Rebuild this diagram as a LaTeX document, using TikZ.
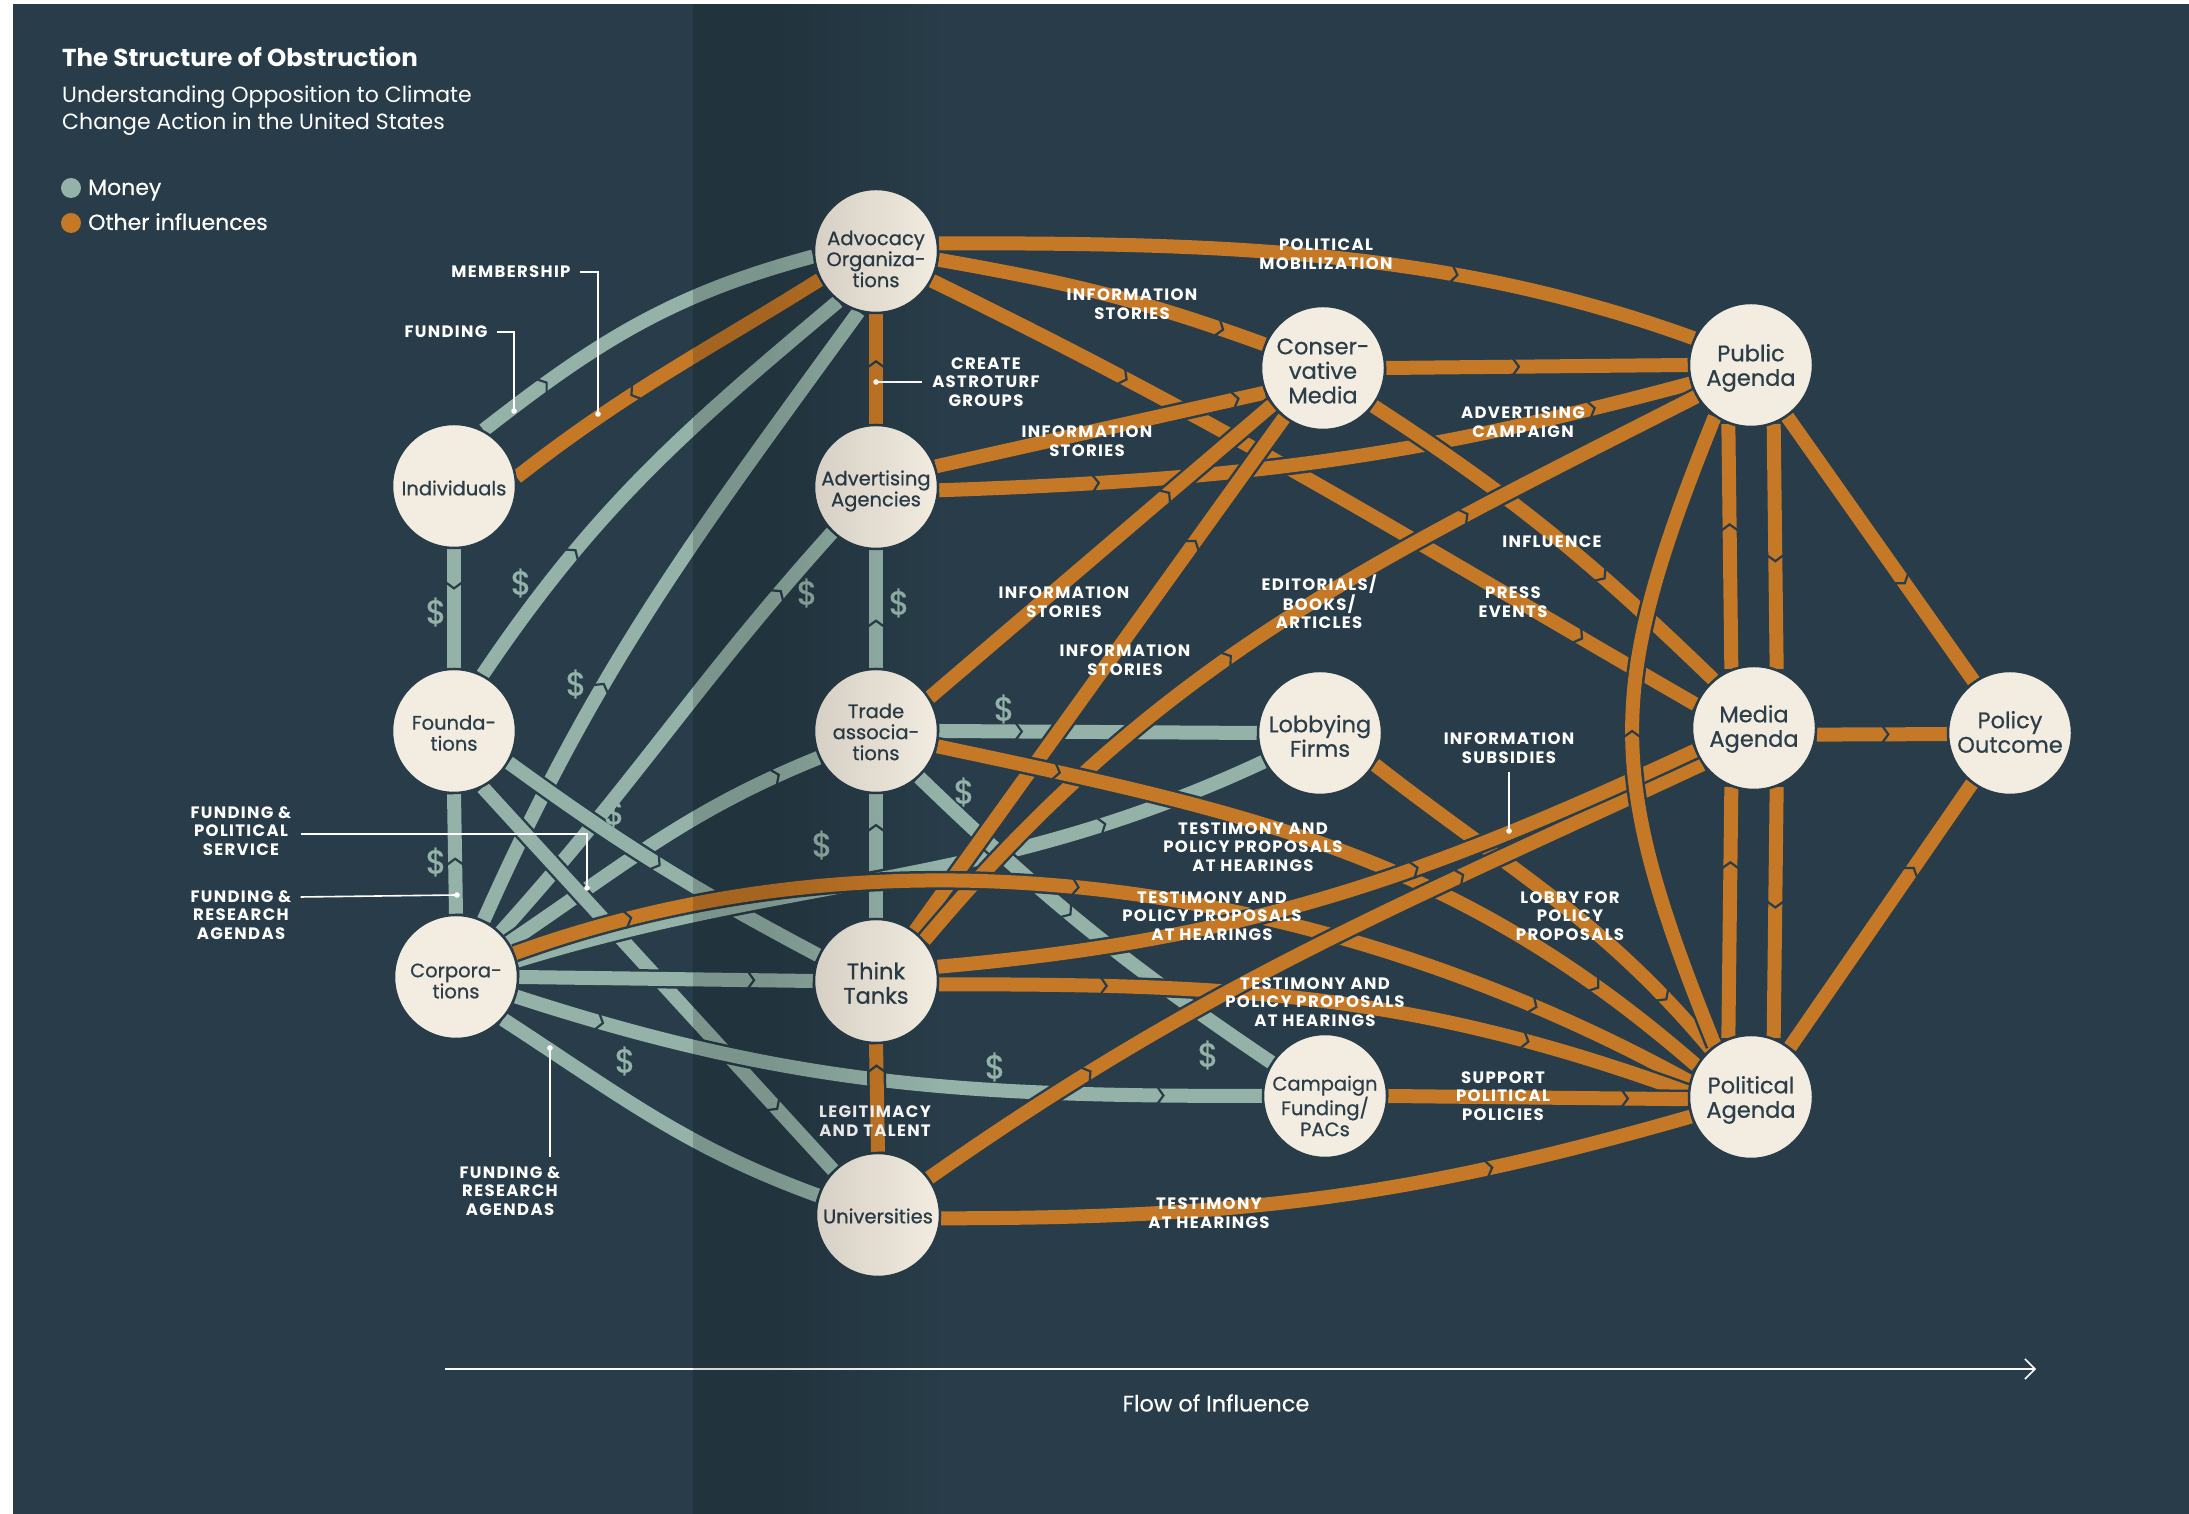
\documentclass[tikz,border=0pt]{standalone}
\usepackage{fontspec}
\setmainfont{Poppins}
\newfontfamily\lblfont[LetterSpace=8]{Poppins}
\newfontfamily\ndfont[FakeBold=0.6]{Poppins}
\newfontfamily\medfont[FakeBold=0.45]{Poppins}
\newfontfamily\dolfont[FakeBold=0.9]{Poppins}
\usetikzlibrary{decorations.markings,arrows.meta,fadings}
\definecolor{bgc}{HTML}{283D49}
\definecolor{sage}{HTML}{94B2A8}
\definecolor{orng}{HTML}{C57826}
\definecolor{ndfill}{HTML}{F3ECE0}
\definecolor{ndtext}{HTML}{2B3E4A}
\pgfdeclarelayer{bgl}\pgfdeclarelayer{edges}\pgfdeclarelayer{top}
\pgfsetlayers{bgl,edges,main,top}
\tikzset{
  band/.style={line width=14pt, preaction={draw=bgc, line width=19pt}},
  money/.style={band, draw=sage},
  infl/.style={band, draw=orng},
  chev/.style={postaction={decorate, decoration={markings, mark=at position #1 with {\draw[bgc, line width=2.2pt, line join=miter] (-6.5pt,9pt) -- (0pt,0pt) -- (-6.5pt,-9pt);}}}},
  nd/.style={circle, fill=ndfill, draw=bgc, line width=2.5pt, minimum size=124pt, inner sep=0pt},
  ndt/.style={align=center, text=ndtext, inner sep=0pt, font=\ndfont\fontsize{19.5}{21}\selectfont},
  ndtb/.style={ndt, font=\ndfont\fontsize{22.5}{24.5}\selectfont},
  lbl/.style={text=white, align=center, inner sep=1pt, font=\lblfont\bfseries\fontsize{16.5}{18.5}\selectfont},
  dol/.style={text=sage, inner sep=0pt, font=\dolfont\fontsize{33}{33}\selectfont},
  leader/.style={draw=white, line width=1.6pt},
  dotw/.style={fill=white},
}
\begin{document}
\begin{tikzpicture}[x=1pt,y=1pt]
\begin{pgfonlayer}{bgl}
\fill[white] (0,0) rectangle (2189,1514);
\fill[bgc] (13,0) rectangle (2189,1510);
\end{pgfonlayer}
\useasboundingbox (0,0) rectangle (2189,1514);

% ---------- nodes (circles)
\node[nd] (adv)   at (876,1263) {};
\node[nd] (ind)   at (454,1028) {};
\node[nd] (advt)  at (876,1027) {};
\node[nd] (fnd)   at (454,783)  {};
\node[nd] (trd)   at (876,783)  {};
\node[nd] (cmed)  at (1323,1146) {};
\node[nd] (pub)   at (1751,1149) {};
\node[nd] (lob)   at (1320,781) {};
\node[nd] (med)   at (1754,786) {};
\node[nd] (pout)  at (2010,781) {};
\node[nd] (corp)  at (456,537)  {};
\node[nd] (tt)    at (876,533)  {};
\node[nd] (camp)  at (1325,418) {};
\node[nd] (polag) at (1751,417) {};
\node[nd] (uni)   at (878,299)  {};
% ---------- node texts
\node[ndt]  (advT)   at ([yshift=-8pt]adv)   {Advocacy\\Organiza-\\tions};
\node[ndt]  (indT)   at ([yshift=-2pt]ind)   {Individuals};
\node[ndt]  (advtT)  at ([yshift=-4pt]advt)  {Advertising\\Agencies};
\node[ndt]  (fndT)   at ([yshift=-2pt]fnd)   {Founda-\\tions};
\node[ndt]  (trdT)   at ([yshift=-1pt]trd)   {Trade\\associa-\\tions};
\node[ndtb] (cmedT)  at ([yshift=-3pt]cmed)  {Conser-\\vative\\Media};
\node[ndtb] (pubT)   at ([yshift=-3pt]pub)   {Public\\Agenda};
\node[ndtb] (lobT)   at ([yshift=-3pt]lob)   {Lobbying\\Firms};
\node[ndtb] (medT)   at ([yshift=-1pt]med)   {Media\\Agenda};
\node[ndtb] (poutT)  at ([yshift=1pt]pout)   {Policy\\Outcome};
\node[ndt]  (corpT)  at ([yshift=-4pt]corp)  {Corpora-\\tions};
\node[ndtb] (ttT)    at ([yshift=-2pt]tt)    {Think\\Tanks};
\node[ndt]  (campT)  at ([yshift=-10pt]camp) {Campaign\\Funding/\\PACs};
\node[ndtb] (polagT) at ([yshift=-3pt]polag) {Political\\Agenda};
\node[ndt]  (uniT)   at ([yshift=-1pt]uni)   {Universities};

% ---------- edges
\begin{pgfonlayer}{edges}
% money
\draw[money, chev=0.21] (ind.62) to[out=38,in=195] (adv.185);
\draw[money, chev=0.33] (ind.-90) -- (fnd.90);
\draw[money, chev=0.3] (fnd.63) to[out=56,in=220] (adv.233);
\draw[money, chev=0.37] (corp.64) to[out=66,in=234] (adv.254);
\draw[money, chev=0.85] (corp.45) to[out=48,in=228] (advt.226);
\draw[money, chev=0.4] (trd.90) -- (advt.-90);
\draw[money, chev=0.46] (corp.90) -- (fnd.-90);
\draw[money, chev=0.75] (tt.90) -- (trd.-90);
\draw[money, chev=0.88] (corp.33) to[out=34,in=202] (trd.205);
\draw[money, chev=0.5] (fnd.-30) to[out=-36,in=152] (tt.156);
\draw[money, chev=0.84] (fnd.-63) -- (uni.135);
\draw[money, chev=0.8] (corp.0) -- (tt.180);
\draw[money, chev=0.78] (corp.15) to[out=17,in=205] (lob.207);
\draw[money, chev=0.12, chev=0.87] (corp.-18) to[out=-18,in=180] (camp.180);
\draw[money] (corp.-42) to[out=-33,in=160] (uni.162);
\draw[money, chev=0.26] (trd.0) -- (lob.180);
\draw[money, chev=0.45] (trd.-47) to[out=-44,in=146] (camp.148);
% other influences
\draw[infl, chev=0.61] (adv.207) to[out=212,in=38] (ind.8);
\draw[infl, chev=0.57] (advt.90) -- (adv.-90);
\draw[infl, chev=0.68] (adv.7) to[out=0,in=160,looseness=0.9] (pub.155);
\draw[infl, chev=0.87] (adv.-8) to[out=-10,in=160] (cmed.158);
\draw[infl, chev=0.25, chev=0.85] (adv.-28) to[out=-26,in=150] (med.158);
\draw[infl, chev=0.92] (advt.19) -- (cmed.203);
\draw[infl, chev=0.21, chev=0.87] (advt.-3) to[out=2,in=195] (pub.197);
\draw[infl, chev=0.44] (cmed.0) -- (pub.180);
\draw[infl, chev=0.66] (cmed.-37) to[out=-33,in=136] (med.130);
\draw[infl, chev=0.7] (trd.32) -- (cmed.216);
\draw[infl, chev=0.76] (tt.52) -- (cmed.232);
\draw[infl, chev=0.44, chev=0.73] (tt.40) to[out=50,in=207] (pub.210);
\draw[infl, chev=0.15, chev=0.85] (trd.-14) to[out=-12,in=139] (polag.150);
\draw[infl, chev=0.1, chev=0.47, chev=0.86] (corp.22) .. controls (900,700) and (1330,630) .. (polag.166);
\draw[infl, chev=0.22, chev=0.78] (tt.-3) to[out=0,in=160] (polag.176);
\draw[infl, chev=0.85] (lob.-30) to[out=-38,in=130] (polag.130);
\draw[infl, chev=0.8] (camp.0) -- (polag.182);
\draw[infl, chev=0.73] (uni.-3) to[out=0,in=196] (polag.198);
\draw[infl, chev=0.8] (uni.90) -- (tt.-90);
\draw[infl, chev=0.22, chev=0.7] (uni.36) to[out=35,in=205] (med.215);
\draw[infl, chev=0.62] (tt.13) to[out=5,in=205] (med.201);
\draw[infl, chev=0.5] (polag.125) to[out=112,in=248,looseness=1.2] (pub.235);
\draw[infl, chev=0.59] (med.111) -- (pub.249);
\draw[infl, chev=0.56] (pub.291) -- (med.69);
\draw[infl, chev=0.7] (polag.111) -- (med.249);
\draw[infl, chev=0.48] (med.291) -- (polag.69);
\draw[infl, chev=0.63] (pub.-55) -- (pout.125);
\draw[infl, chev=0.55] (med.-6) -- (pout.181);
\draw[infl, chev=0.68] (polag.52) -- (pout.233);
\end{pgfonlayer}

% ---------- title and legend
\node[anchor=base west, text=white, inner sep=0pt, font=\bfseries\fontsize{24.5}{28}\selectfont] (title) at (62,1447) {The Structure of Obstruction};
\node[anchor=base west, text=white, inner sep=0pt, font=\fontsize{22}{28}\selectfont] (sub1) at (62,1411) {Understanding Opposition to Climate};
\node[anchor=base west, text=white, inner sep=0pt, font=\fontsize{22}{28}\selectfont] (sub2) at (62,1384) {Change Action in the United States};
\fill[sage] (71,1326) circle (10);
\node[anchor=base west, text=white, inner sep=0pt, font=\medfont\fontsize{22}{26}\selectfont] (lgm) at (88,1319) {Money};
\fill[orng] (71,1291) circle (10);
\node[anchor=base west, text=white, inner sep=0pt, font=\medfont\fontsize{22}{26}\selectfont] (lgo) at (88,1284) {Other influences};

% ---------- labels
\node[lbl] (lMem) at (511,1242) {MEMBERSHIP};
\node[lbl] (lFund) at (446,1182) {FUNDING};
\node[lbl] (lAstro) at (986,1132) {CREATE\\ASTROTURF\\GROUPS};
\node[lbl] (lPolMob) at (1326,1260) {POLITICAL\\MOBILIZATION};
\node[lbl] (lInf1) at (1132,1210) {INFORMATION\\STORIES};
\node[lbl] (lInf2) at (1087,1073) {INFORMATION\\STORIES};
\node[lbl] (lAdv) at (1523,1092) {ADVERTISING\\CAMPAIGN};
\node[lbl] (lInfl) at (1552,972) {INFLUENCE};
\node[lbl] (lPress) at (1513,912) {PRESS\\EVENTS};
\node[lbl] (lInf3) at (1064,912) {INFORMATION\\STORIES};
\node[lbl] (lEdit) at (1319,912) {EDITORIALS/\\BOOKS/\\ARTICLES};
\node[lbl] (lInf4) at (1125,854) {INFORMATION\\STORIES};
\node[lbl] (lSubs) at (1509,766) {INFORMATION\\SUBSIDIES};
\node[lbl] (lTes1) at (1253,667) {TESTIMONY AND\\POLICY PROPOSALS\\AT HEARINGS};
\node[lbl] (lTes2) at (1212,598) {TESTIMONY AND\\POLICY PROPOSALS\\AT HEARINGS};
\node[lbl] (lLobby) at (1570,598) {LOBBY FOR\\POLICY\\PROPOSALS};
\node[lbl] (lTes3) at (1315,512) {TESTIMONY AND\\POLICY PROPOSALS\\AT HEARINGS};
\node[lbl] (lSupp) at (1503,418) {SUPPORT\\POLITICAL\\POLICIES};
\node[lbl] (lLeg) at (875,393) {LEGITIMACY\\AND TALENT};
\node[lbl] (lTesU) at (1209,301) {TESTIMONY\\AT HEARINGS};
\node[lbl] (lFPS) at (241,683) {FUNDING \&\\POLITICAL\\SERVICE};
\node[lbl] (lFRA1) at (241,599) {FUNDING \&\\RESEARCH\\AGENDAS};
\node[lbl] (lFRA2) at (510,323) {FUNDING \&\\RESEARCH\\AGENDAS};

% ---------- leaders
\coordinate (dMem) at (598,1100);
\coordinate (dFund) at (514,1103);
\coordinate (dAstro) at (876,1132);
\coordinate (dSubs) at (1509,683);
\coordinate (dFPS) at (587,626);
\coordinate (dFRA1) at (457,619);
\coordinate (dFRA2) at (550,466);
\coordinate (eFRA2) at (550,357);
\draw[leader] ([xshift=8pt]lMem.east) -| (dMem);
\draw[leader] ([xshift=8pt]lFund.east) -| (dFund);
\draw[leader] (dAstro) -- ([xshift=-9pt]lAstro.west);
\draw[leader] ([yshift=-8pt]lSubs.south) -- (dSubs);
\draw[leader] ([xshift=8pt,yshift=-3pt]lFPS.east) -| (dFPS);
\draw[leader] ([xshift=8pt,yshift=18pt]lFRA1.east) -- (dFRA1);
\draw[leader] (eFRA2) -- (dFRA2);
\foreach \d in {dMem,dFund,dAstro,dSubs,dFPS,dFRA1,dFRA2} \fill[dotw] (\d) circle (2.8);

% ---------- dollar signs
\node[dol] (s1) at (436,902) {\$};
\node[dol] (s2) at (521,931) {\$};
\node[dol] (s3) at (576,830) {\$};
\node[dol] (s4) at (807,921) {\$};
\node[dol] (s5) at (899,911) {\$};
\node[dol] (s6) at (436,652) {\$};
\node[dol] (s7) at (614,701) {\$};
\node[dol] (s8) at (822,669) {\$};
\node[dol] (s9) at (1004,805) {\$};
\node[dol] (s10) at (964,722) {\$};
\node[dol] (s11) at (625,453) {\$};
\node[dol] (s12) at (995,447) {\$};
\node[dol] (s13) at (1208,459) {\$};

% ---------- flow of influence
\coordinate (fa) at (445,145);
\coordinate (fb) at (2036,145);
\draw[white, line width=2.6pt, -{Straight Barb[length=10pt,width=20pt,line width=1.6pt]}] (fa) -- (fb);
\node[text=white, font=\medfont\fontsize{22.5}{24}\selectfont] (flowtxt) at (1216,111) {Flow of Influence};

% ---------- page fold shadow
\begin{pgfonlayer}{top}
\fill[black, fill opacity=0.16] (693,0) rectangle (770,1510);
\fill[black, fill opacity=0.16, path fading=east] (770,0) rectangle (940,1510);
\end{pgfonlayer}
\end{tikzpicture}
\end{document}
